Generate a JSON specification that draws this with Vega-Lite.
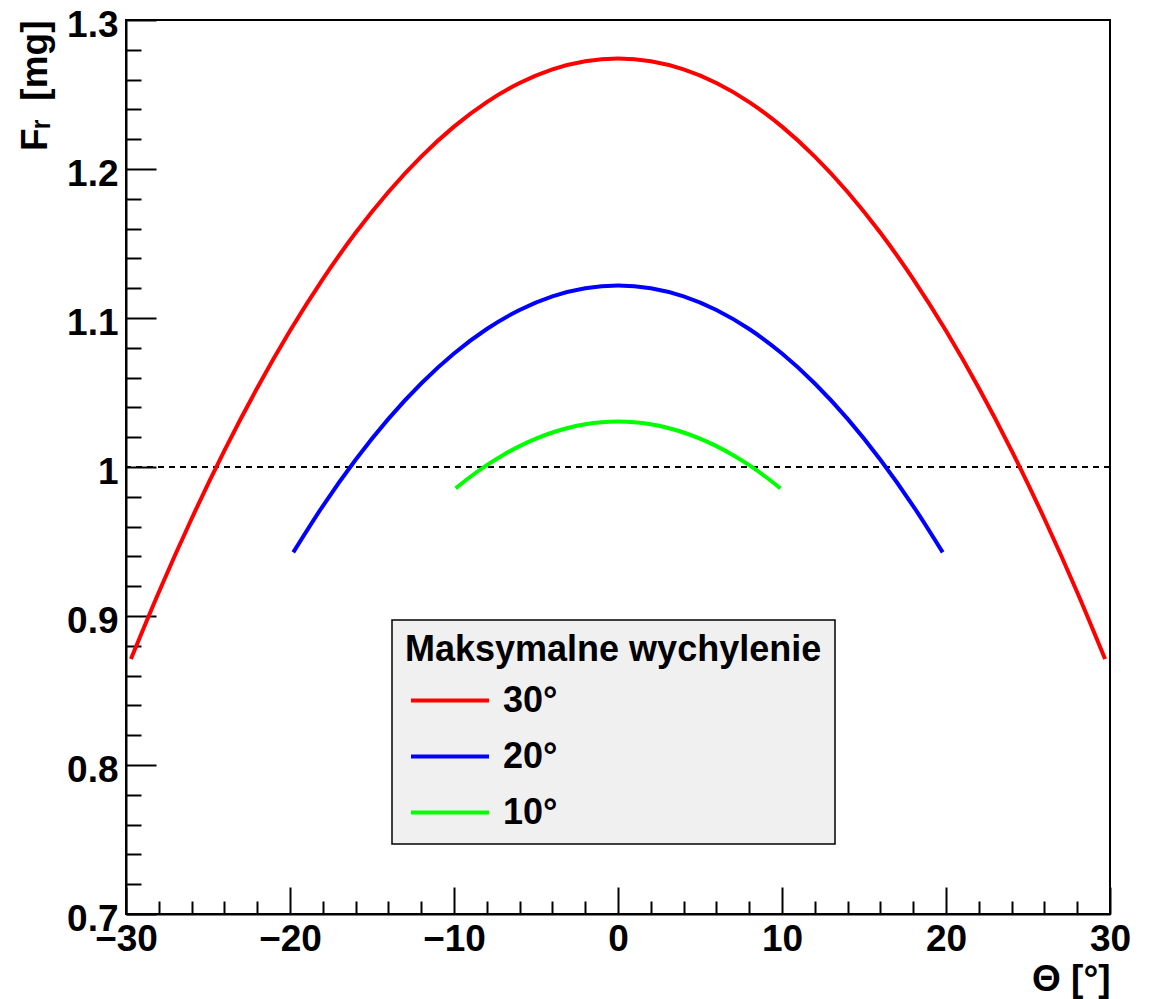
{
  "$schema": "https://vega.github.io/schema/vega-lite/v6.json",
  "width": 984,
  "height": 894,
  "autosize": {"type": "none"},
  "padding": {"left": 126, "top": 20, "right": 39, "bottom": 85},
  "background": "white",
  "config": {"view": {"stroke": "black", "strokeWidth": 2}, "font": "Liberation Sans", "legend": {"strokeWidth": 1.5}},
  "data": {"values": [
    {"series": "30°", "theta": -29.7, "F": 0.87111},
    {"series": "30°", "theta": -28, "F": 0.91593},
    {"series": "30°", "theta": -26, "F": 0.96527},
    {"series": "30°", "theta": -24, "F": 1.01097},
    {"series": "30°", "theta": -22, "F": 1.05300},
    {"series": "30°", "theta": -20, "F": 1.09139},
    {"series": "30°", "theta": -18, "F": 1.12611},
    {"series": "30°", "theta": -16, "F": 1.15718},
    {"series": "30°", "theta": -14, "F": 1.18460},
    {"series": "30°", "theta": -12, "F": 1.20836},
    {"series": "30°", "theta": -10, "F": 1.22846},
    {"series": "30°", "theta": -8, "F": 1.24491},
    {"series": "30°", "theta": -6, "F": 1.25771},
    {"series": "30°", "theta": -4, "F": 1.26685},
    {"series": "30°", "theta": -2, "F": 1.27233},
    {"series": "30°", "theta": 0, "F": 1.27416},
    {"series": "30°", "theta": 2, "F": 1.27233},
    {"series": "30°", "theta": 4, "F": 1.26685},
    {"series": "30°", "theta": 6, "F": 1.25771},
    {"series": "30°", "theta": 8, "F": 1.24491},
    {"series": "30°", "theta": 10, "F": 1.22846},
    {"series": "30°", "theta": 12, "F": 1.20836},
    {"series": "30°", "theta": 14, "F": 1.18460},
    {"series": "30°", "theta": 16, "F": 1.15718},
    {"series": "30°", "theta": 18, "F": 1.12611},
    {"series": "30°", "theta": 20, "F": 1.09139},
    {"series": "30°", "theta": 22, "F": 1.05300},
    {"series": "30°", "theta": 24, "F": 1.01097},
    {"series": "30°", "theta": 26, "F": 0.96527},
    {"series": "30°", "theta": 28, "F": 0.91593},
    {"series": "30°", "theta": 29.7, "F": 0.87111},
    {"series": "20°", "theta": -19.8, "F": 0.94271},
    {"series": "20°", "theta": -18, "F": 0.97380},
    {"series": "20°", "theta": -16, "F": 1.00487},
    {"series": "20°", "theta": -14, "F": 1.03229},
    {"series": "20°", "theta": -12, "F": 1.05605},
    {"series": "20°", "theta": -10, "F": 1.07615},
    {"series": "20°", "theta": -8, "F": 1.09260},
    {"series": "20°", "theta": -6, "F": 1.10540},
    {"series": "20°", "theta": -4, "F": 1.11454},
    {"series": "20°", "theta": -2, "F": 1.12002},
    {"series": "20°", "theta": 0, "F": 1.12185},
    {"series": "20°", "theta": 2, "F": 1.12002},
    {"series": "20°", "theta": 4, "F": 1.11454},
    {"series": "20°", "theta": 6, "F": 1.10540},
    {"series": "20°", "theta": 8, "F": 1.09260},
    {"series": "20°", "theta": 10, "F": 1.07615},
    {"series": "20°", "theta": 12, "F": 1.05605},
    {"series": "20°", "theta": 14, "F": 1.03229},
    {"series": "20°", "theta": 16, "F": 1.00487},
    {"series": "20°", "theta": 18, "F": 0.97380},
    {"series": "20°", "theta": 19.8, "F": 0.94271},
    {"series": "10°", "theta": -9.9, "F": 0.98568},
    {"series": "10°", "theta": -9, "F": 0.99345},
    {"series": "10°", "theta": -8, "F": 1.00122},
    {"series": "10°", "theta": -7, "F": 1.00807},
    {"series": "10°", "theta": -6, "F": 1.01401},
    {"series": "10°", "theta": -5, "F": 1.01904},
    {"series": "10°", "theta": -4, "F": 1.02315},
    {"series": "10°", "theta": -3, "F": 1.02635},
    {"series": "10°", "theta": -2, "F": 1.02863},
    {"series": "10°", "theta": -1, "F": 1.03000},
    {"series": "10°", "theta": 0, "F": 1.03046},
    {"series": "10°", "theta": 1, "F": 1.03000},
    {"series": "10°", "theta": 2, "F": 1.02863},
    {"series": "10°", "theta": 3, "F": 1.02635},
    {"series": "10°", "theta": 4, "F": 1.02315},
    {"series": "10°", "theta": 5, "F": 1.01904},
    {"series": "10°", "theta": 6, "F": 1.01401},
    {"series": "10°", "theta": 7, "F": 1.00807},
    {"series": "10°", "theta": 8, "F": 1.00122},
    {"series": "10°", "theta": 9, "F": 0.99345},
    {"series": "10°", "theta": 9.9, "F": 0.98568}
  ]},
  "layer": [
    {
      "mark": {"type": "point", "opacity": 0},
      "encoding": {
        "x": {"field": "theta", "type": "quantitative",
          "scale": {"domain": [-30, 30], "nice": false, "zero": false},
          "axis": {"orient": "bottom", "values": [-28, -26, -24, -22, -18, -16, -14, -12, -8, -6, -4, -2, 2, 4, 6, 8, 12, 14, 16, 18, 22, 24, 26, 28],
            "tickSize": -13, "tickWidth": 2, "tickColor": "black", "domain": false, "labels": false, "grid": false, "title": null}},
        "y": {"field": "F", "type": "quantitative",
          "scale": {"domain": [0.7, 1.3], "nice": false, "zero": false},
          "axis": {"orient": "left", "values": [0.72, 0.74, 0.76, 0.78, 0.82, 0.84, 0.86, 0.88, 0.92, 0.94, 0.96, 0.98, 1.02, 1.04, 1.06, 1.08, 1.12, 1.14, 1.16, 1.18, 1.22, 1.24, 1.26, 1.28],
            "tickSize": -15, "tickWidth": 2, "tickColor": "black", "domain": false, "labels": false, "grid": false, "title": null}}
      }
    },
    {
      "mark": {"type": "rule", "strokeDash": [6, 5], "strokeWidth": 1.5, "color": "black"},
      "encoding": {"y": {"datum": 1, "axis": null}}
    },
    {
      "mark": {"type": "line", "strokeWidth": 4, "interpolate": "monotone"},
      "encoding": {
        "x": {"field": "theta", "type": "quantitative",
          "scale": {"domain": [-30, 30], "nice": false, "zero": false},
          "axis": {"orient": "bottom", "values": [-30, -20, -10, 0, 10, 20, 30], "format": "d",
            "tickSize": -27, "tickWidth": 2, "tickColor": "black", "domainColor": "black", "domainWidth": 2,
            "labelFont": "Liberation Sans", "labelFontWeight": "bold", "labelFontSize": 37, "labelColor": "black",
            "labelPadding": 34, "labelFlush": false, "labelOverlap": false, "grid": false,
            "title": "Θ [°]", "titleFont": "Liberation Sans", "titleFontSize": 37, "titleFontWeight": "bold", "titleColor": "black",
            "titleAnchor": "end", "titleAlign": "right", "titleBaseline": "alphabetic", "titleX": 984, "titleY": 76}},
        "y": {"field": "F", "type": "quantitative",
          "scale": {"domain": [0.7, 1.3], "nice": false, "zero": false},
          "axis": {"orient": "left", "values": [0.7, 0.8, 0.9, 1, 1.1, 1.2, 1.3], "format": "~g",
            "tickSize": -30, "tickWidth": 2, "tickColor": "black", "domainColor": "black", "domainWidth": 2,
            "labelFont": "Liberation Sans", "labelFontWeight": "bold", "labelFontSize": 37, "labelColor": "black",
            "labelPadding": 38, "labelOffset": 5, "labelFlush": false, "labelOverlap": false, "grid": false,
            "title": "Fᵣ\u2002[mg]", "titleFont": "Liberation Sans", "titleFontSize": 37, "titleFontWeight": "bold", "titleColor": "black",
            "titleAnchor": "end", "titleAlign": "right", "titleAngle": 270, "titleBaseline": "alphabetic", "titleX": -80, "titleY": 0}},
        "color": {"field": "series", "type": "nominal",
          "scale": {"domain": ["30°", "20°", "10°"], "range": ["#ff0000", "#0000ff", "#00ff00"]},
          "legend": {"orient": "none", "legendX": 266, "legendY": 600,
            "title": "Maksymalne wychylenie", "titleFont": "Liberation Sans", "titleFontSize": 36, "titleFontWeight": "bold", "titleColor": "black",
            "titlePadding": 14, "titleLimit": 1000,
            "labelFont": "Liberation Sans", "labelFontSize": 36, "labelFontWeight": "bold", "labelColor": "black", "labelLimit": 500,
            "labelOffset": 12, "symbolType": "stroke", "symbolSize": 6084, "symbolStrokeWidth": 4, "symbolOffset": 4,
            "clipHeight": 35, "rowPadding": 19, "padding": 13,
            "fillColor": "#f0f0f0", "strokeColor": "black", "cornerRadius": 0}}
      }
    }
  ],
  "resolve": {"axis": {"x": "independent", "y": "independent"}}
}
